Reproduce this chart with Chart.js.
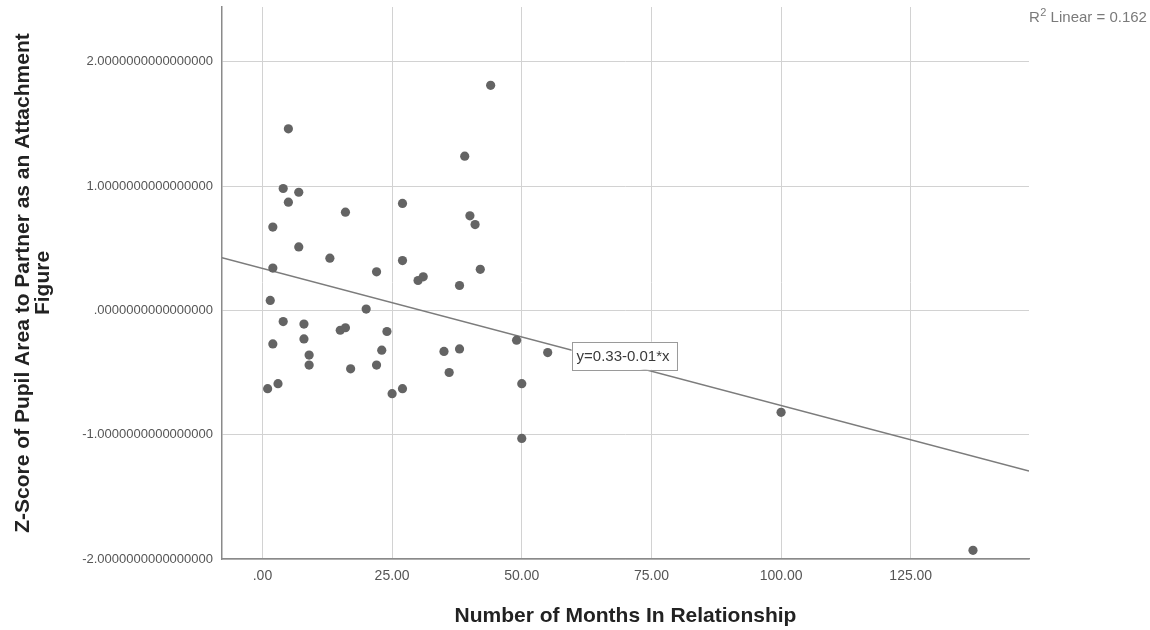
<!DOCTYPE html>
<html>
<head>
<meta charset="utf-8">
<title>Pupil area vs months in relationship</title>
<script src="https://cdn.jsdelivr.net/npm/chart.js@4.4.1/dist/chart.umd.min.js"></script>
<style>
    html, body { margin: 0; padding: 0; background: #fff; }
    canvas { display: block; }
</style>
</head>
<body>
<canvas id="scatterChart" width="1150" height="630"></canvas>
<script>
// data
const months = [
    44, 5, 39, 4, 7, 5, 27, 16, 40, 41,
    2, 7, 13, 27, 2, 42, 22, 30, 31, 38,
    1.5, 20, 4, 8, 15, 16, 24, 8, 49, 2,
    38, 35, 23, 9, 9, 22, 17, 36, 3, 1,
    50, 27, 25, 55, 50, 100, 137
];
const zScores = [
    1.81, 1.46, 1.24, 0.98, 0.95, 0.87, 0.86, 0.79, 0.76, 0.69,
    0.67, 0.51, 0.42, 0.40, 0.34, 0.33, 0.31, 0.24, 0.27, 0.20,
    0.08, 0.01, -0.09, -0.11, -0.16, -0.14, -0.17, -0.23, -0.24, -0.27,
    -0.31, -0.33, -0.32, -0.36, -0.44, -0.44, -0.47, -0.50, -0.59, -0.63,
    -0.59, -0.63, -0.67, -0.34, -1.03, -0.82, -1.93
];

const xTicks = [0, 25, 50, 75, 100, 125];
const xTickLabels = ['.00', '25.00', '50.00', '75.00', '100.00', '125.00'];
const yTicks = [-2, -1, 0, 1, 2];
const yTickLabels = [
    '-2.0000000000000000', '-1.0000000000000000', '.0000000000000000',
    '1.0000000000000000', '2.0000000000000000'
];

const xRange = [-7.8, 147.8];
const yRange = [-2.0, 2.44];

// linear fit shown by SPSS
const fitIntercept = 0.337;
const fitSlope = -0.01102;
const fitLabel = 'y=0.33-0.01*x';
const rSquared = '0.162';

const fitLine = xRange.map(x => ({ x: x, y: fitIntercept + fitSlope * x }));
const points = months.map((m, i) => ({ x: m, y: zScores[i] }));

const FONT = "Arial, 'Liberation Sans', sans-serif";

// equation box + R² note
const annotations = {
    id: 'annotations',
    afterDatasetsDraw(chart) {
        const { ctx, scales: { x, y } } = chart;
        ctx.save();

        // equation label sitting on the fit line
        const bx = x.getPixelForValue(59.6);
        const by = y.getPixelForValue(-0.365);
        ctx.font = '15px ' + FONT;
        const tw = ctx.measureText(fitLabel).width;
        const bw = tw + 12, bh = 28;
        ctx.fillStyle = '#ffffff';
        ctx.fillRect(bx, by - bh / 2, bw, bh);
        ctx.strokeStyle = '#9a9a9a';
        ctx.lineWidth = 1;
        ctx.strokeRect(Math.round(bx) + 0.5, Math.round(by - bh / 2) + 0.5, bw, bh);
        ctx.fillStyle = '#3a3a3a';
        ctx.textBaseline = 'middle';
        ctx.textAlign = 'left';
        ctx.fillText(fitLabel, bx + 5, by + 1);

        // R² Linear = ...
        let tx = 1029;
        const ty = 22;
        ctx.fillStyle = '#7a7a7a';
        ctx.textBaseline = 'alphabetic';
        ctx.font = '15px ' + FONT;
        ctx.fillText('R', tx, ty);
        tx += ctx.measureText('R').width;
        ctx.font = '11px ' + FONT;
        ctx.fillText('2', tx + 0.5, ty - 6);
        tx += ctx.measureText('2').width + 0.5;
        ctx.font = '15px ' + FONT;
        ctx.fillText(' Linear = ' + rSquared, tx, ty);

        ctx.restore();
    }
};

new Chart(document.getElementById('scatterChart'), {
    type: 'scatter',
    data: {
        datasets: [
            {
                label: 'Fit',
                data: fitLine,
                showLine: true,
                borderColor: '#7c7c7c',
                borderWidth: 1.5,
                pointRadius: 0,
                fill: false,
                order: 2
            },
            {
                label: 'Cases',
                data: points,
                backgroundColor: '#646464',
                borderWidth: 0,
                pointRadius: 4.6,
                order: 1
            }
        ]
    },
    options: {
        responsive: false,
        animation: false,
        layout: {
            autoPadding: false,
            padding: { top: 7, right: 121, left: 0, bottom: 0 }
        },
        scales: {
            x: {
                type: 'linear',
                min: xRange[0],
                max: xRange[1],
                afterBuildTicks: scale => { scale.ticks = xTicks.map(v => ({ value: v })); },
                afterFit: scale => {
                    scale.height = 71;
                    scale.paddingLeft = 0;
                    scale.paddingRight = 0;
                },
                grid: { color: '#d2d2d2', lineWidth: 1, drawTicks: false },
                border: { display: true, color: '#8a8a8a', width: 1.5 },
                ticks: {
                    padding: 9,
                    color: '#555555',
                    font: { size: 14, family: FONT },
                    maxRotation: 0,
                    callback: function(value) {
                        const i = xTicks.indexOf(value);
                        return i >= 0 ? xTickLabels[i] : '';
                    }
                },
                title: {
                    display: true,
                    text: 'Number of Months In Relationship',
                    color: '#222222',
                    font: { size: 21, weight: 'bold', family: FONT, lineHeight: 1.2 },
                    padding: { top: 0, bottom: 1 }
                }
            },
            y: {
                type: 'linear',
                min: yRange[0],
                max: yRange[1],
                afterBuildTicks: scale => { scale.ticks = yTicks.map(v => ({ value: v })); },
                afterFit: scale => {
                    scale.width = 222;
                    scale.paddingTop = 0;
                    scale.paddingBottom = 0;
                },
                grid: { color: '#d2d2d2', lineWidth: 1, drawTicks: false },
                border: { display: true, color: '#8a8a8a', width: 1.5 },
                ticks: {
                    padding: 9,
                    color: '#555555',
                    font: { size: 13, family: FONT },
                    callback: function(value) {
                        const i = yTicks.indexOf(value);
                        return i >= 0 ? yTickLabels[i] : '';
                    }
                },
                title: {
                    display: true,
                    text: ['Z-Score of Pupil Area to Partner as an Attachment', 'Figure'],
                    color: '#222222',
                    font: { size: 21, weight: 'bold', family: FONT, lineHeight: '20px' },
                    padding: { top: 13, bottom: 0 }
                }
            }
        },
        plugins: {
            legend: { display: false },
            tooltip: { enabled: false }
        }
    },
    plugins: [annotations]
});
</script>
</body>
</html>
